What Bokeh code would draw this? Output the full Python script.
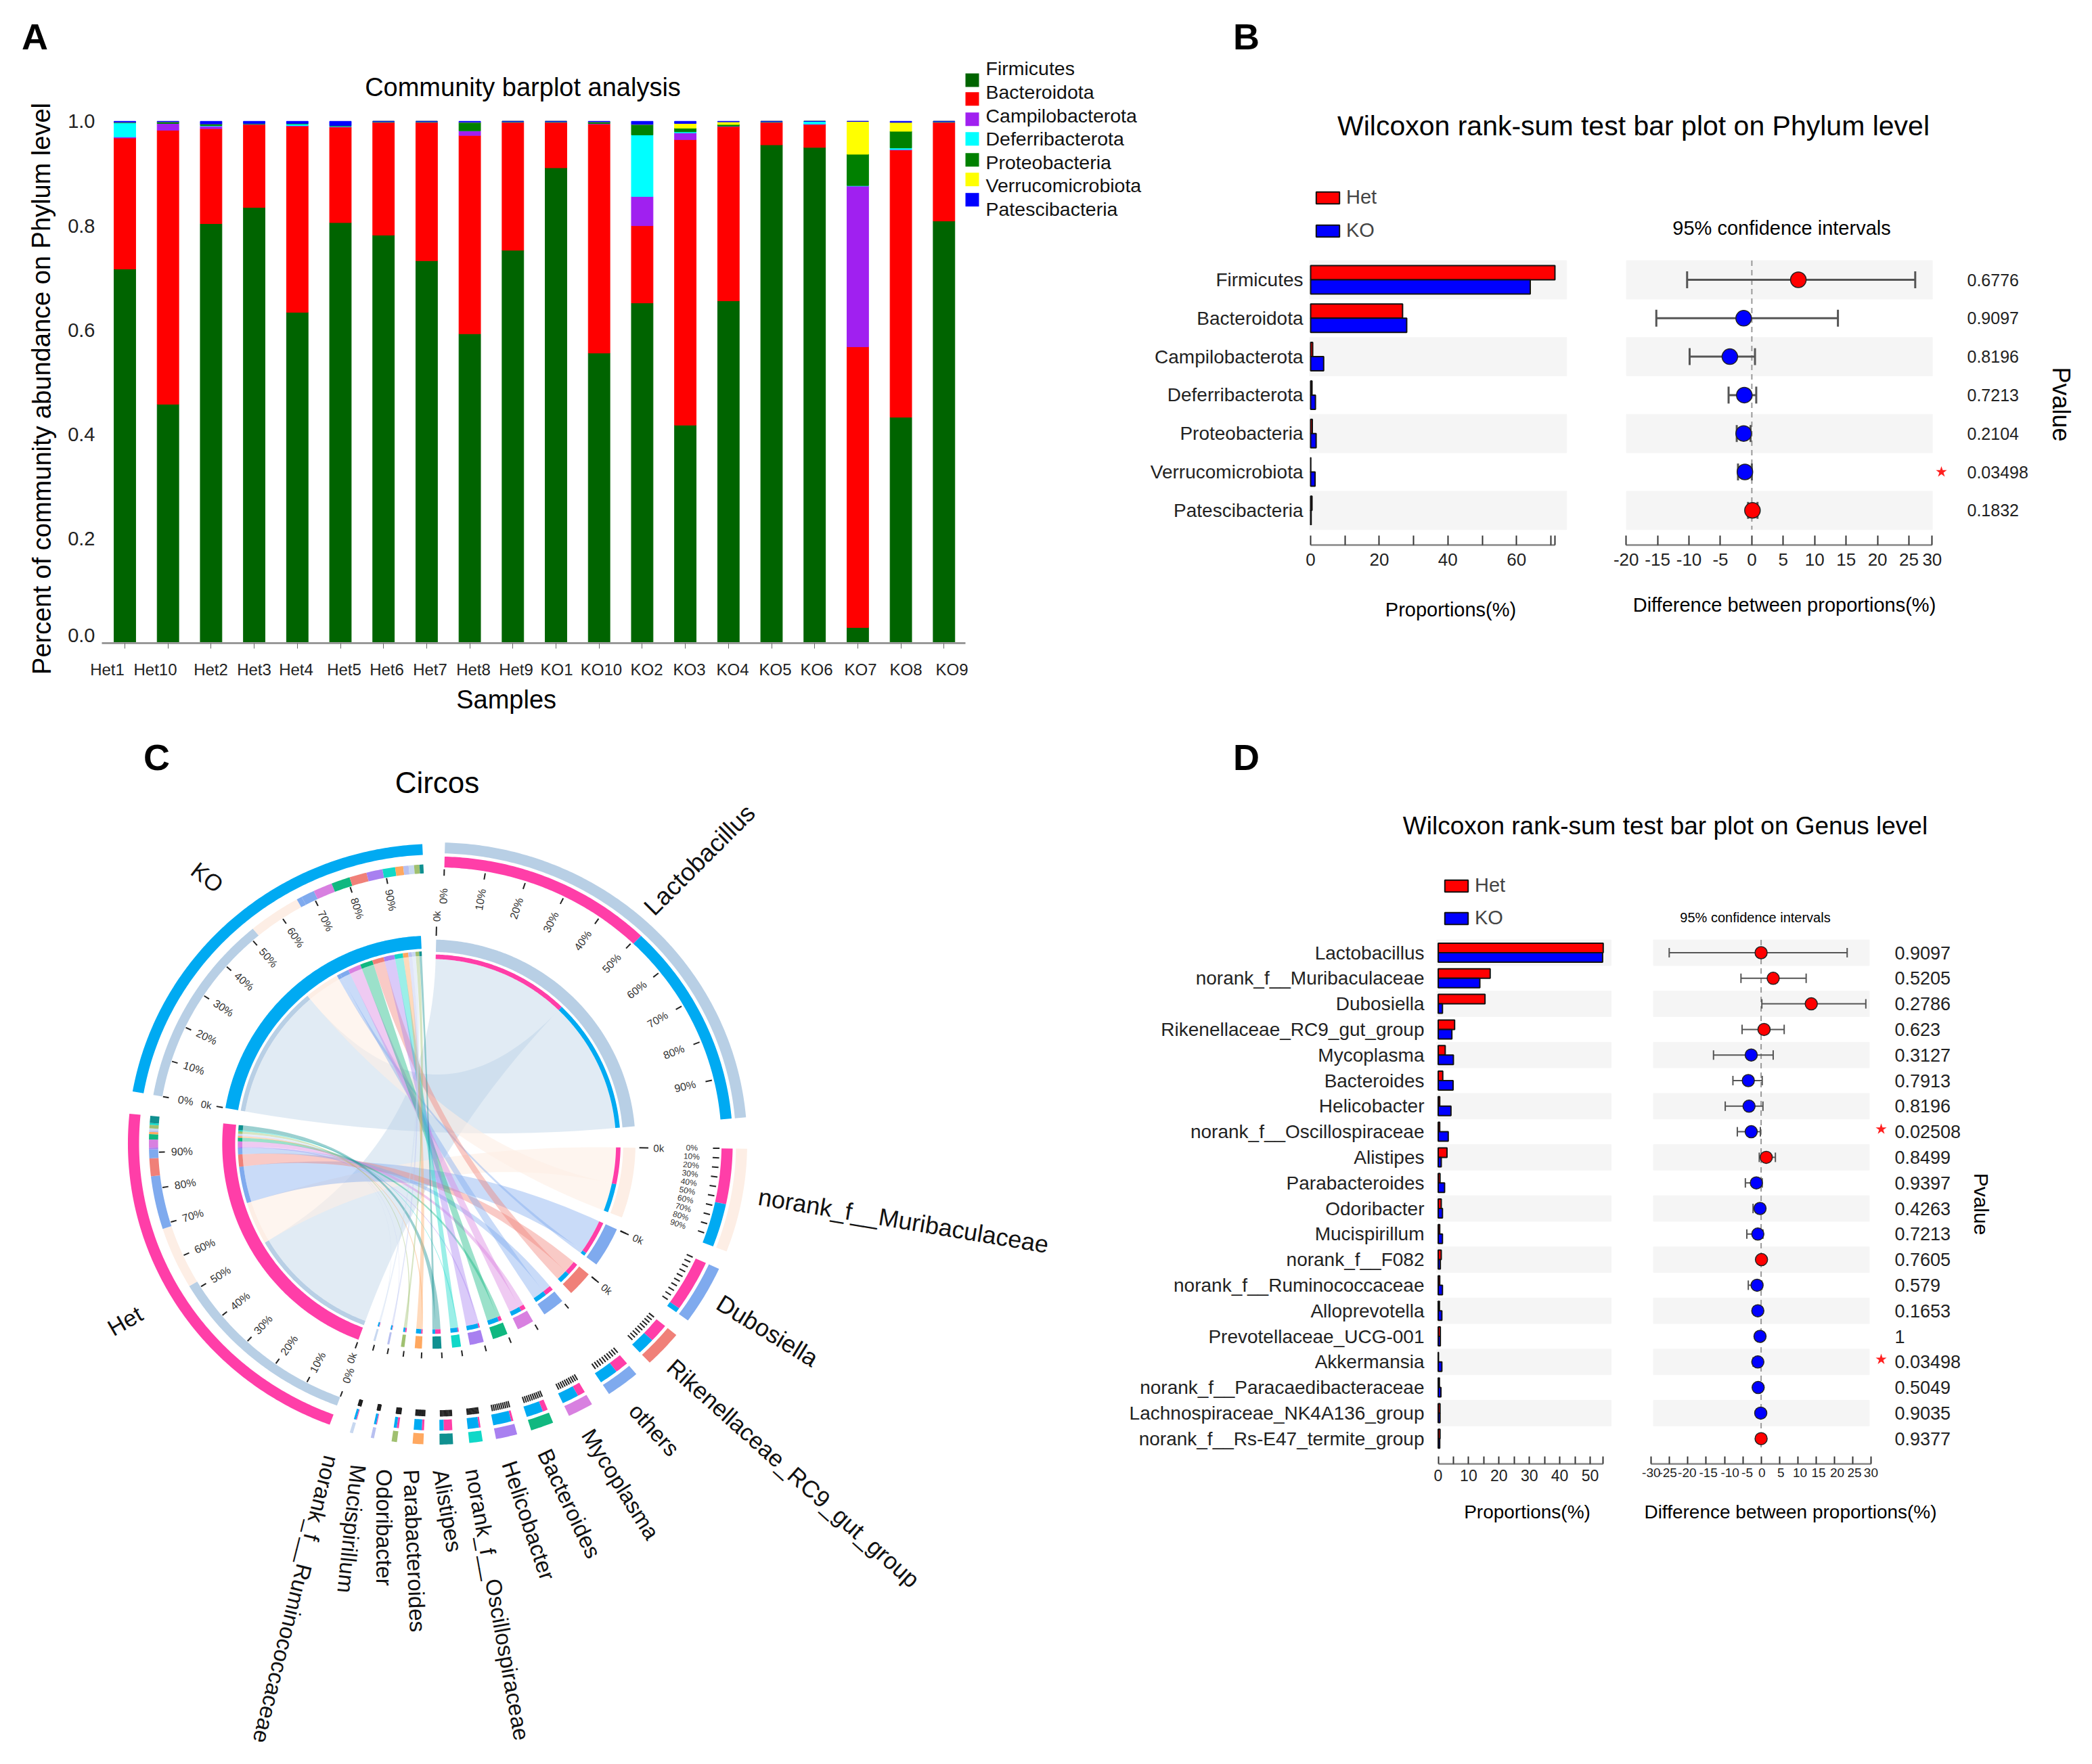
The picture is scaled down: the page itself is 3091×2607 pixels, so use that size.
import math
from bokeh.plotting import figure
from bokeh.layouts import row, column
from bokeh.models import (Range1d, FixedTicker, ColumnDataSource, Whisker, TeeHead,
                          Legend, LegendItem)
from bokeh.core.properties import value
from bokeh.embed import file_html
from bokeh.resources import INLINE

FONT = "Liberation Sans"

# ---------------- Panel A data
samples = ["Het1","Het10","Het2","Het3","Het4","Het5","Het6","Het7","Het8","Het9",
           "KO1","KO10","KO2","KO3","KO4","KO5","KO6","KO7","KO8","KO9"]
phyla = ["Firmicutes","Bacteroidota","Campilobacterota","Deferribacterota",
         "Proteobacteria","Verrucomicrobiota","Patescibacteria"]
phyla_colors = ["#006400","#FF0000","#A020F0","#00FFFF","#008000","#FFFF00","#0000FF"]
firmicutes = [.717,.458,.804,.835,.634,.806,.782,.733,.593,.753,.911,.556,.652,.418,.656,.955,.950,.030,.433,.809]
bacteroidota = [.251,.525,.182,.159,.357,.183,.216,.265,.380,.245,.087,.439,.148,.547,.334,.043,.044,.538,.512,.189]
campilobacterota = [.002,.013,.005,.001,.001,.001,.001,.001,.009,.001,.001,.001,.056,.013,.001,.001,.001,.308,.001,.001]
deferribacterota = [.027,0,.001,0,.003,.001,0,0,0,0,0,0,.118,.002,0,0,.005,.001,.003,0]
proteobacteria = [.001,.003,.003,.001,.001,.001,.001,.001,.016,.001,.001,.003,.020,.007,.003,.001,0,.060,.032,.001]
verrucomicrobiota = [0,0,0,0,0,0,0,0,0,0,0,0,0,.009,.005,0,0,.063,.017,0]
patescibacteria = [.002,.001,.005,.004,.004,.008,0,0,.002,0,0,.001,.006,.004,.001,0,0,0,.002,0]
a_y_ticks = [0.015,.2,.4,.6,.8,1.0]
a_y_labels = ["0.0","0.2","0.4","0.6","0.8","1.0"]

# ---------------- Panel B data
b_names = phyla
b_het = [71.2,26.8,.6,.4,.5,.05,.4]
b_ko = [64,28,3.8,1.4,1.6,1.3,.15]
b_diff = [7.4,-1.3,-3.5,-1.2,-1.3,-1.1,.1]
b_lo = [-10.3,-15.2,-9.9,-3.7,-2.4,-2.2,-.6]
b_hi = [26,13.7,.5,.7,-.2,0,.9]
b_p = ["0.6776","0.9097","0.8196","0.7213","0.2104","0.03498","0.1832"]
b_sig = [5]

# ---------------- Panel D data
d_names = ["Lactobacillus","norank_f__Muribaculaceae","Dubosiella","Rikenellaceae_RC9_gut_group",
           "Mycoplasma","Bacteroides","Helicobacter","norank_f__Oscillospiraceae","Alistipes",
           "Parabacteroides","Odoribacter","Mucispirillum","norank_f__F082","norank_f__Ruminococcaceae",
           "Alloprevotella","Prevotellaceae_UCG-001","Akkermansia","norank_f__Paracaedibacteraceae",
           "Lachnospiraceae_NK4A136_group","norank_f__Rs-E47_termite_group"]
d_het = [54.3,17.1,15.4,5.4,2.3,1.5,.5,.5,2.9,.6,1.0,.5,1.0,.5,.4,.7,.1,.4,.6,.6]
d_ko = [54.1,13.7,1.4,4.5,5,4.9,4.2,3.3,1.0,2.1,1.4,1.4,.7,1.4,1.2,.7,1.2,.9,.6,.5]
d_diff = [0,3.3,13.7,.8,-2.7,-3.5,-3.3,-2.7,1.4,-1.3,-.3,-.9,.1,-1.1,-.9,-.3,-.9,-.8,-.1,0]
d_lo = [-25.1,-5.5,.2,-5.2,-13,-7.7,-9.8,-6.5,-.5,-4.3,-2.2,-3.9,-.9,-3.5,-2,-1,-2.2,-1.7,-1.2,-.9]
d_hi = [23.5,12.3,28.6,6.3,3.3,.3,.5,-.2,3.9,.3,.8,.5,1,.2,0,.5,0,.1,.9,.9]
d_p = ["0.9097","0.5205","0.2786","0.623","0.3127","0.7913","0.8196","0.02508","0.8499","0.9397",
       "0.4263","0.7213","0.7605","0.579","0.1653","1","0.03498","0.5049","0.9035","0.9377"]
d_sig = [7,16]
d_red = [0,1,2,3,8,12,19]
b_red = [0,6]

# ---------------- Panel C data
genera = ["Lactobacillus","norank_f__Muribaculaceae","Dubosiella","Rikenellaceae_RC9_gut_group","others",
          "Mycoplasma","Bacteroides","Helicobacter","norank_f__Oscillospiraceae","Alistipes",
          "Parabacteroides","Odoribacter","Mucispirillum","norank_f__Ruminococcaceae"]
genus_colors = ["#B8CFE5","#FDEEE5","#7FAAEE","#F08078","#7FAAEE","#D880E0","#10B880","#A880F0",
                "#10D8C8","#109090","#FFA860","#A0C070","#B8C0F0","#C8D8F0"]
genus_start = [1.5,91,114.6,129.5,140,150,158,165,171.5,177,182.5,187.4,191.7,195.7]
genus_end = [85,111,126,136.7,146.3,154.8,162.3,169,174,179.5,184.5,188.4,192.3,196.3]
het_share = [53,17.5,15,5,2.5,2.3,1.5,.5,.5,2,.6,1,.5,.5]
ko_share = [52,13.7,1.4,4.5,3.5,5,4.9,4.2,3.3,1,2.1,1.4,1.4,1.4]
het_order = [0,1,2,3,4,7,5,6,10,12,13,11,8,9]
ko_order = [0,1,2,4,5,6,3,7,8,10,12,13,11,9]
group_names = ["Het","KO"]
group_start = [200.3,280]
group_end = [275.7,357.3]
PINK = "#FF3EA8"
SKY = "#00AAF2"


def canvas(w, h, x0, x1, y0, y1):
    p = figure(width=w, height=h, x_range=Range1d(x0, x1), y_range=Range1d(y0, y1),
               x_axis_location=None, y_axis_location=None, toolbar_location=None, tools="",
               output_backend="svg", min_border=0, outline_line_color=None)
    p.grid.visible = False
    return p


def txt(p, x, y, s, size, align="center", angle=0, bold=False, color="black"):
    p.text(x=[x], y=[y], text=[s], text_font=value(FONT), text_font_size=f"{size}px",
           text_align=align, text_baseline="middle", angle=[math.radians(angle)],
           text_color=color, text_font_style="bold" if bold else "normal")


# ================= Panel A
A_L, F_L, F_R, F_T, F_B, A_FOOT = 95, 150, 1690, 0, 951, 1005
ASP, AY = 63.7, 772.0
ax = lambda ix: 1 + (ix - 184) / ASP
ay = lambda iy: (F_B - iy) / AY
pa = figure(width=F_R - A_L, height=A_FOOT, x_range=Range1d(ax(F_L), ax(F_R)), y_range=Range1d(0, ay(F_T)),
            toolbar_location=None, tools="", output_backend="svg", outline_line_color=None,
            min_border_left=F_L - A_L, min_border_right=0, min_border_top=0, min_border_bottom=A_FOOT - F_B)
pa.grid.visible = False
xs = list(range(1, 21))
src_a = ColumnDataSource(dict(x=xs, **dict(zip(phyla, [firmicutes, bacteroidota, campilobacterota,
                                                       deferribacterota, proteobacteria,
                                                       verrucomicrobiota, patescibacteria]))))
pa.vbar_stack(phyla, x="x", width=0.5, color=phyla_colors, source=src_a)
label_px = [158,229,311,375,437,508,571,635,699,762,822,888,955,1018,1082,1145,1206,1271,1338,1406]
tick_pos = [round(ax(v), 4) for v in label_px]
xa = pa.xaxis[0]
xa.ticker = FixedTicker(ticks=tick_pos, minor_ticks=xs)
xa.major_label_overrides = dict(zip(tick_pos, samples))
xa.bounds = (ax(148), 20.5)
xa.major_tick_line_color = None
xa.major_tick_out = 0
xa.major_tick_in = 0
xa.minor_tick_out = 8
xa.minor_tick_in = 0
xa.minor_tick_line_color = "#666666"
xa.axis_line_color = "#999999"
xa.axis_line_width = 3
xa.major_label_text_font = FONT
xa.major_label_text_font_size = "24px"
xa.major_label_standoff = 17
xa.major_label_text_color = "#222222"
ya = pa.yaxis[0]
ya.ticker = FixedTicker(ticks=a_y_ticks)
ya.major_label_overrides = dict(zip(a_y_ticks, a_y_labels))
ya.bounds = (0, 1)
ya.axis_line_color = None
ya.major_tick_line_color = None
ya.major_tick_out = 0
ya.major_tick_in = 0
ya.minor_tick_line_color = None
ya.major_label_text_font = FONT
ya.major_label_text_font_size = "29px"
ya.major_label_standoff = 10
ya.major_label_text_color = "#222222"
swatch_y = [118,146,176,205,236,265,295]
text_y = [101,136,171,205,240,274,309]
pa.scatter(x=[ax(1436)] * 7, y=[ay(v) for v in swatch_y], marker="square", size=20,
           color=phyla_colors, line_color=None)
pa.text(x=[ax(1456)] * 7, y=[ay(v) for v in text_y], text=phyla, text_font=value(FONT),
        text_font_size="28.5px", text_baseline="middle", text_align="left", text_color="#111111")
txt(pa, ax(772), ay(129), "Community barplot analysis", 38)
la = canvas(A_L, 1075, 0, A_L, 1075, 0)
txt(la, 51, 53, "A", 54, bold=True)
txt(la, 61, 574, "Percent of community abundance on Phylum level", 38, angle=90)
fa = canvas(F_R - A_L, 1075 - A_FOOT, A_L, F_R, 1075, A_FOOT)
txt(fa, 714, 1033, "Samples", 38)


def style_x(axis, size, standoff, tick):
    axis.axis_line_color = "#999999"
    axis.axis_line_width = 3
    axis.major_tick_line_color = "#333333"
    axis.minor_tick_line_color = "#333333"
    axis.major_tick_line_width = 2
    axis.minor_tick_line_width = 2
    axis.major_tick_in = tick
    axis.major_tick_out = 0
    axis.minor_tick_in = tick
    axis.minor_tick_out = 0
    axis.major_label_text_font = FONT
    axis.major_label_text_font_size = f"{size}px"
    axis.major_label_standoff = standoff
    axis.major_label_text_color = "#222222"


def bar_panel(names, het, ko, fig_l, fig_r, fig_t, fig_b, frame_l, frame_b, zero_px, scale, band_end,
              row0, pitch, ticks, minor, bound, tick_len, lab_size, tick_size, standoff, y_standoff,
              leg_x, leg_y, leg_pitch, leg_w, leg_h):
    n = len(names)
    ys = (frame_b - row0) / pitch
    yt = (fig_t - row0) / pitch
    xs0 = (frame_l - zero_px) / scale
    p = figure(width=fig_r - fig_l, height=fig_b - fig_t,
               x_range=Range1d(xs0, xs0 + (fig_r - frame_l) / scale), y_range=Range1d(ys, yt),
               toolbar_location=None, tools="", output_backend="svg", outline_line_color=None,
               min_border_left=frame_l - fig_l, min_border_right=0, min_border_top=0,
               min_border_bottom=fig_b - frame_b)
    p.grid.visible = False
    ev = list(range(0, n, 2))
    p.hbar(y=ev, left=xs0, right=band_end, height=1.0, color="#F5F5F5", level="image")
    idx = list(range(n))
    h = p.hbar(y=[i - .185 for i in idx], left=0, right=het, height=.37, fill_color="#FF0000",
               line_color="#111111", line_width=2)
    k = p.hbar(y=[i + .185 for i in idx], left=0, right=ko, height=.37, fill_color="#0000FF",
               line_color="#111111", line_width=2)
    ax_ = p.xaxis[0]
    ax_.ticker = FixedTicker(ticks=ticks, minor_ticks=minor)
    ax_.bounds = (0, bound)
    style_x(ax_, tick_size, standoff, tick_len)
    y_ = p.yaxis[0]
    y_.ticker = FixedTicker(ticks=idx)
    y_.major_label_overrides = dict(zip(idx, names))
    y_.axis_line_color = None
    y_.major_tick_line_color = None
    y_.major_tick_out = 0
    y_.major_tick_in = 0
    y_.minor_tick_line_color = None
    y_.major_label_text_font = FONT
    y_.major_label_text_font_size = f"{lab_size}px"
    y_.major_label_standoff = y_standoff
    y_.major_label_text_color = "#222222"
    leg_h_tot = 2 * 33 + (leg_pitch - 33)
    lg = Legend(items=[LegendItem(label="Het", renderers=[h]), LegendItem(label="KO", renderers=[k])],
                location=(leg_x - frame_l, frame_b - leg_y - leg_h_tot), margin=0, padding=0,
                spacing=leg_pitch - 33, glyph_width=leg_w, glyph_height=leg_h, label_standoff=6,
                label_text_font=FONT, label_text_font_size="29px", label_height=33,
                background_fill_alpha=0, border_line_color=None)
    p.add_layout(lg)
    return p


def ci_panel(names, diff, lo, hi, red, pvals, sig, fig_l, fig_r, fig_t, fig_b, frame_l, frame_b, zero_px,
             scale, band_l, band_r, row0, pitch, ticks, labels, bound, tick_len, tick_size, standoff,
             marker, cap, lw, p_x, p_size, star_x, star_dy, label_pos=None):
    n = len(names)
    ys = (frame_b - row0) / pitch
    yt = (fig_t - row0) / pitch
    xs0 = (frame_l - zero_px) / scale
    dx = lambda v: (v - zero_px) / scale
    p = figure(width=fig_r - fig_l, height=fig_b - fig_t,
               x_range=Range1d(xs0, xs0 + (fig_r - frame_l) / scale), y_range=Range1d(ys, yt),
               y_axis_location=None, toolbar_location=None, tools="", output_backend="svg",
               outline_line_color=None, min_border_left=frame_l - fig_l, min_border_right=0,
               min_border_top=0, min_border_bottom=fig_b - frame_b)
    p.grid.visible = False
    idx = list(range(n))
    p.hbar(y=list(range(0, n, 2)), left=dx(band_l), right=dx(band_r), height=1.0, color="#F5F5F5",
           level="image")
    p.segment(x0=[0], y0=[-.5], x1=[0], y1=[n - .5], line_color="#999999", line_width=2,
              line_dash="8 6", level="image")
    s = ColumnDataSource(dict(y=idx, lo=lo, hi=hi))
    p.add_layout(Whisker(source=s, base="y", lower="lo", upper="hi", dimension="width",
                         line_color="#555555", line_width=lw, level="underlay",
                         upper_head=TeeHead(size=cap, line_color="#555555", line_width=lw),
                         lower_head=TeeHead(size=cap, line_color="#555555", line_width=lw)))
    cols = ["#FF0000" if i in red else "#0000FF" for i in idx]
    p.scatter(x=diff, y=idx, size=marker, fill_color=cols, line_color="#222222", line_width=1.5)
    p.text(x=[dx(p_x)] * n, y=idx, text=pvals, text_font=value(FONT), text_font_size=f"{p_size}px",
           text_baseline="middle", text_align="left", text_color="#222222")
    p.scatter(x=[dx(star_x)] * len(sig), y=[i + star_dy for i in sig], marker="star", size=17,
              color="#FF2020", line_color=None)
    ax_ = p.xaxis[0]
    style_x(ax_, tick_size, standoff, tick_len)
    if label_pos is None:
        ax_.ticker = FixedTicker(ticks=ticks)
        ax_.major_label_overrides = dict(zip(ticks, labels))
    else:
        ax_.ticker = FixedTicker(ticks=label_pos, minor_ticks=ticks)
        ax_.major_label_overrides = dict(zip(label_pos, labels))
        ax_.major_tick_line_color = None
        ax_.major_tick_in = 0
    ax_.bounds = bound
    return p


# ================= Panel B
B_TOP, B_BOT, B_L = 255, 860, 1690
pb_l = bar_panel(b_names, b_het, b_ko, B_L, 2360, B_TOP, B_BOT, 1934, 805, 1936, 5.07, 74.6, 413, 56.8,
                 [0,20,40,60], [10,30,50,70,71.3], 71.3, 14, 28, 26, 12, 9, 1940, 275, 49, 43, 22)
b_ticks = [-20,-15,-10,-5,0,5,10,15,20,25,28.7]
b_tlabs = ["-20","-15","-10","-5","0","5","10","15","20","25","30"]
pb_r = ci_panel(b_names, b_diff, b_lo, b_hi, b_red, b_p, b_sig, 2360, 3091, B_TOP, B_BOT, 2402, 805,
                2587.9, 9.285, 2402.4, 2854.7, 413, 56.8, b_ticks, b_tlabs, (-20, 28.7), 14, 26, 12,
                23, 25, 3, 2906, 25, 2868, 0)
txt(pb_r, (2632 - 2587.9) / 9.285, (336 - 413) / 56.8, "95% confidence intervals", 29)
txt(pb_r, (3045 - 2587.9) / 9.285, (597 - 413) / 56.8, "Pvalue", 36, angle=-90)
hb = canvas(3091 - B_L, B_TOP, B_L, 3091, B_TOP, 0)
txt(hb, 1841, 53, "B", 54, bold=True)
txt(hb, 2413, 185, "Wilcoxon rank-sum test bar plot on Phylum level", 41)
fb = canvas(3091 - B_L, 1075 - B_BOT, B_L, 3091, 1075, B_BOT)
txt(fb, 2143, 900, "Proportions(%)", 29)
txt(fb, 2636, 893, "Difference between proportions(%)", 29)

# ================= Panel D
D_TOP, D_BOT, D_L = 1260, 2200, 1630
pd_l = bar_panel(d_names, d_het, d_ko, D_L, 2400, D_TOP, D_BOT, 2122, 2163, 2124.5, 4.49, 56.9, 1407.5, 37.8,
                 [0,10,20,30,40,50], [5,15,25,35,45,54.3], 54.3, 11, 28, 23, 8, 18, 2130, 1292, 48, 43, 22)
d_ticks = list(range(-30, 31, 5))
d_tlabs = [str(v) for v in d_ticks]
d_label_pos = [-30,-25.5,-20.2,-14.4,-8.5,-3.8,0.2,5.4,10.6,15.7,20.8,25.5,30]
pd_r = ci_panel(d_names, d_diff, d_lo, d_hi, d_red, d_p, d_sig, 2400, 3091, D_TOP, D_BOT, 2439, 2163,
                2601.6, 5.41, 2442.5, 2761.5, 1407.5, 37.8, d_ticks, d_tlabs, (-30, 30), 11, 19, 6,
                18, 14, 2, 2799, 27, 2779, -.1, label_pos=d_label_pos)
txt(pd_r, (2593 - 2601.6) / 5.41, (1355 - 1407.5) / 37.8, "95% confidence intervals", 20)
txt(pd_r, (2927 - 2601.6) / 5.41, (1779 - 1407.5) / 37.8, "Pvalue", 30, angle=-90)
hd = canvas(3091 - D_L, D_TOP - 1075, D_L, 3091, D_TOP, 1075)
txt(hd, 1841, 1118, "D", 54, bold=True)
txt(hd, 2460, 1220, "Wilcoxon rank-sum test bar plot on Genus level", 37)
fd = canvas(3091 - D_L, 2607 - D_BOT, D_L, 3091, 2607, D_BOT)
txt(fd, 2256, 2234, "Proportions(%)", 28)
txt(fd, 2645, 2234, "Difference between proportions(%)", 28)

# ================= Panel C
pc = canvas(D_L, 1532, 0, D_L, 2607, 1075)
Z = 0.957
zx = lambda v: 100 + Z * v
zy = lambda v: 1100 + Z * v
OC = (645.0, zy(616), 1.015, 0.985)
IC = (636.0, zy(617), 1.0, 1.0)


def pt(c, r, t):
    a = math.radians(t)
    return c[0] + r * Z * c[2] * math.sin(a), c[1] - r * Z * c[3] * math.cos(a)


def arc(c, r, t0, t1):
    k = max(2, int(abs(t1 - t0) / 0.5) + 2)
    return [pt(c, r, t0 + (t1 - t0) * i / (k - 1)) for i in range(k)]


wx, wy, wc = [], [], []


def ring(c, r0, r1, t0, t1, col):
    pts = arc(c, r1, t0, t1) + arc(c, r0, t1, t0)
    wx.append([q[0] for q in pts])
    wy.append([q[1] for q in pts])
    wc.append(col)


def bez(a, b, c):
    out = []
    for i in range(1, 40):
        t = i / 40
        out.append(((1 - t) ** 2 * a[0] + 2 * t * (1 - t) * c[0] + t * t * b[0],
                    (1 - t) ** 2 * a[1] + 2 * t * (1 - t) * c[1] + t * t * b[1]))
    return out


def chord(r1, a0, a1, r2, b0, b1):
    A = arc(IC, r1, a0, a1)
    B = arc(IC, r2, b0, b1)
    return A + bez(A[-1], B[0], IC) + B + bez(B[-1], A[0], IC)


def spans(order, share, t0, t1):
    tot = sum(share)
    out = {}
    cur = t0
    for i in order:
        w = (t1 - t0) * share[i] / tot
        out[i] = (cur, cur + w)
        cur += w
    return out


het_sp = spans(het_order, het_share, group_start[0], group_end[0])
ko_sp = spans(ko_order, ko_share, group_start[1], group_end[1])

cx_, cy_, ca, cal = [], [], [], []
for i in range(len(genera)):
    s, e = genus_start[i], genus_end[i]
    f = het_share[i] / (het_share[i] + ko_share[i])
    m = s + (e - s) * f
    col = genus_colors[i]
    for (g0, g1), (h0, h1) in (((s, m), het_sp[i]), ((m, e), ko_sp[i])):
        c = chord(286, g0, g1, 291, h0, h1)
        cx_.append([q[0] for q in c])
        cy_.append([q[1] for q in c])
        ca.append(col)
        cal.append(.6 if i == 1 else .42)
    ring(OC, 455, 472, s, e, col)
    ring(OC, 433, 450, s, m, PINK)
    ring(OC, 433, 450, m, e, SKY)
    ring(IC, 297, 316, s, e, col)
    ring(IC, 286, 293, s, m, PINK)
    ring(IC, 286, 293, m, e, SKY)

pc.patches(cx_, cy_, fill_color=ca, fill_alpha=cal, line_color=None)
for gi, (sp, col) in enumerate(((het_sp, PINK), (ko_sp, SKY))):
    t0, t1 = group_start[gi], group_end[gi]
    ring(OC, 453, 470, t0, t1, col)
    ring(IC, 302, 322, t0, t1, col)
    for i, (h0, h1) in sp.items():
        ring(OC, 424, 438, h0, h1, genus_colors[i])
        ring(IC, 291, 298, h0, h1, genus_colors[i])
pc.patches(wx, wy, fill_color=wc, line_color=None)

tx0, ty0, tx1, ty1 = [], [], [], []


def tick(c, r0, r1, t):
    a = pt(c, r0, t)
    b = pt(c, r1, t)
    tx0.append(a[0]); ty0.append(a[1]); tx1.append(b[0]); ty1.append(b[1])


def radial(c, r, t, s, size):
    x, y = pt(c, r, t)
    rot = 90 - t if t <= 180 else 270 - t
    txt(pc, x, y, s, size, angle=rot, color="#333333")


PCT = [f"{v}%" for v in range(0, 100, 10)]
big = [(genus_start[0], genus_end[0], 420, 430, 388, 16), (genus_start[1], genus_end[1], 420, 430, 388, 12),
       (group_start[0], group_end[0], 414, 423, 388, 16), (group_start[1], group_end[1], 414, 423, 388, 16)]
for s, e, r0, r1, rl, fs in big:
    for k, lab in enumerate(PCT):
        t = s + (e - s) * k / 10
        tick(OC, r0, r1, t)
        radial(OC, rl, t, lab, fs)
for i in range(2, len(genera)):
    s, e = genus_start[i], genus_end[i]
    for k in range(10):
        tick(OC, 418, 428, s + (e - s) * k / 10)
    tick(IC, 322, 331, s)
for t in genus_start[:4] + group_start:
    tick(IC, 322 if t not in group_start else 326, 336, t)
    radial(IC, 352, t, "0k", 15)
pc.segment(tx0, ty0, tx1, ty1, line_color="#222222", line_width=2)

txt(pc, 231, 1118, "C", 54, bold=True)
txt(pc, zx(570), zy(58), "Circos", 44)
outer_labels = [
    ("Lactobacillus", 975, 178, 45, 37), ("KO", 215, 205, -38, 34), ("Het", 88, 890, 30, 34),
    ("norank_f__Muribaculaceae", 1290, 735, -9.5, 36), ("Dubosiella", 1080, 905, -31.5, 36),
    ("Rikenellaceae_RC9_gut_group", 1120, 1125, -41.8, 35), ("others", 905, 1058, -47.6, 33),
    ("Mycoplasma", 853, 1142, -58, 33), ("Bacteroides", 774, 1172, -64.6, 33),
    ("Helicobacter", 711, 1198, -71.5, 33), ("norank_f__Oscillospiraceae", 663, 1328, -79.7, 33),
    ("Alistipes", 586, 1183, -80, 33), ("Parabacteroides", 535, 1245, -87.7, 33),
    ("Odoribacter", 488, 1209, -90, 33), ("Mucispirillum", 438, 1211, -96, 33),
    ("norank_f__Ruminococcaceae", 352, 1320, -104, 33)]
for s, x, y, rot, fs in outer_labels:
    txt(pc, zx(x), zy(y), s, fs, angle=rot, color="#111111")

top = row(la, column(pa, fa, spacing=0), column(hb, row(pb_l, pb_r, spacing=0), fb, spacing=0), spacing=0)
bot = row(pc, column(hd, row(pd_l, pd_r, spacing=0), fd, spacing=0), spacing=0)
page = column(top, bot, spacing=0)
open("out.html", "w").write(file_html(page, INLINE))
